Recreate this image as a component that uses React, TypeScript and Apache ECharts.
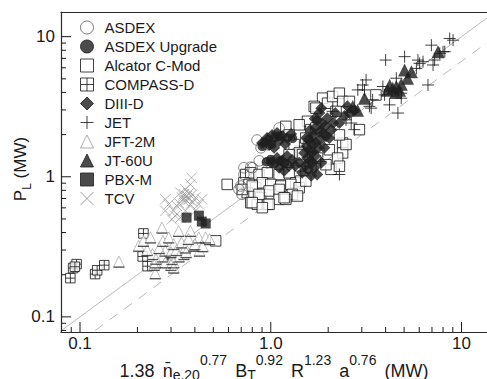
import React, { useEffect, useRef } from 'react';
import * as echarts from 'echarts';

const FONT = '"Liberation Sans", Arial, Helvetica, sans-serif';
const INK = '#1a1a1a';

// Legend order of the machines
const machines = ['ASDEX', 'ASDEX Upgrade', 'Alcator C-Mod', 'COMPASS-D', 'DIII-D', 'JET', 'JFT-2M', 'JT-60U', 'PBX-M', 'TCV'];

// Each point: [scaling expression (MW), P_L (MW)]
const asdex = [
  [1.106, 2.23], [0.96, 1.257], [0.785, 1.172], [0.723, 1.038], [0.695, 0.859], [0.706, 0.749],
  [0.96, 1.696], [0.8, 1.16], [0.681, 0.812], [0.889, 1.61], [0.847, 1.83], [0.723, 1.16], [0.87, 1.3],
];
const asdexUpgrade = [
  [0.903, 1.65], [0.93, 1.76], [0.97, 1.84], [1.01, 1.7], [1.05, 1.9], [1.1, 1.95], [0.95, 1.28],
  [1.0, 1.33], [1.05, 1.24], [1.12, 1.3], [1.18, 1.25], [1.3, 1.88], [0.3, 0.262],
];
const alcatorCMod = [
  [0.739, 1.038], [0.785, 1.068], [0.868, 1.038], [0.96, 1.068], [1.106, 1.038], [1.248, 1.068],
  [1.354, 0.906], [1.438, 0.932], [0.723, 0.906], [0.769, 0.882], [0.834, 0.835], [0.903, 0.906],
  [1.0, 0.882], [1.129, 0.859], [1.274, 0.882], [1.409, 0.835], [0.753, 0.77], [0.817, 0.749],
  [0.886, 0.709], [0.98, 0.792], [1.106, 0.812], [1.199, 0.709], [1.299, 0.749], [1.38, 0.729],
  [0.785, 0.654], [0.85, 0.636], [0.96, 0.636], [1.106, 0.69], [1.199, 0.69], [0.709, 0.812],
  [0.591, 0.882], [0.514, 0.349], [0.8, 0.859], [0.868, 0.749], [0.98, 0.636], [1.175, 0.709],
  [1.527, 0.932], [0.8, 0.654], [0.903, 0.602],
  [1.199, 2.29], [1.558, 2.49], [1.623, 2.17], [1.869, 3.64], [1.985, 3.35], [2.109, 3.74],
  [2.288, 3.95], [2.381, 3.45], [2.198, 2.93], [1.69, 3.18], [1.725, 2.23], [2.027, 1.56],
  [2.381, 1.74], [2.381, 1.48], [2.069, 1.13], [1.438, 1.52], [1.326, 1.7], [1.409, 1.48],
  [1.558, 1.79], [1.759, 1.36], [1.947, 1.22], [1.623, 1.16], [2.915, 2.17], [2.583, 3.45],
  [1.725, 3.09], [3.56, 3.84], [1.409, 2.35], [1.248, 1.99], [1.527, 1.89], [1.59, 1.65],
  [1.248, 1.44], [1.467, 1.44], [2.24, 1.36], [2.29, 1.19], [2.48, 1.7], [2.29, 1.99],
];
const compassD = [
  [0.089, 0.189], [0.092, 0.223], [0.096, 0.238], [0.094, 0.228], [0.12, 0.202], [0.123, 0.215],
  [0.134, 0.234], [0.215, 0.394], [0.213, 0.27], [0.226, 0.23],
];
const diiiD = [
  [0.9, 1.744], [0.956, 1.89], [1.016, 1.987], [1.079, 2.052], [1.147, 1.955], [1.218, 1.89],
  [1.279, 2.02], [0.98, 1.687], [1.106, 1.8], [1.189, 1.715], [1.041, 1.61],
  [1.004, 1.257], [1.079, 1.36], [1.147, 1.299], [1.218, 1.409], [1.294, 1.32], [1.342, 1.197],
  [1.106, 1.16], [1.248, 1.197], [1.175, 1.103],
  [1.461, 1.068], [1.516, 1.197], [1.553, 1.36], [1.59, 1.555], [1.629, 1.744], [1.668, 1.955],
  [1.709, 2.23], [1.751, 2.54], [1.795, 2.85], [1.839, 3.09], [1.571, 1.121], [1.649, 1.257],
  [1.709, 1.409], [1.773, 1.61], [1.817, 1.83], [1.884, 2.052], [1.931, 2.3], [1.979, 2.62],
  [1.751, 1.038], [1.497, 1.48], [1.535, 1.89], [1.61, 2.16], [1.908, 1.61], [2.027, 1.89],
  [2.077, 2.16], [2.128, 2.42], [1.69, 1.16], [1.839, 1.257], [1.629, 1.016], [1.409, 1.257],
  [1.55, 1.65], [1.66, 1.5], [1.72, 1.75], [1.62, 1.3], [1.8, 2.1], [1.7, 2.6], [1.85, 2.4],
  [1.95, 1.95], [1.58, 1.85],
  [2.431, 2.71], [2.583, 2.85], [2.744, 2.99], [2.288, 2.42], [2.18, 2.85], [2.521, 3.19],
];
const jet = [
  [8.67, 9.71], [9.03, 9.44], [6.95, 8.7], [8.0, 7.81], [7.09, 6.28], [7.23, 6.81], [6.28, 6.63],
  [5.91, 6.81], [5.03, 7.2], [4.0, 6.81], [5.8, 5.94], [6.67, 4.52], [4.55, 5.05], [4.83, 3.95],
  [4.83, 3.64], [4.19, 3.26], [4.64, 2.85], [3.87, 4.41], [3.95, 3.84], [3.16, 4.91], [3.03, 4.52],
  [3.1, 4.17], [2.86, 4.17], [3.29, 3.18], [3.36, 3.09], [2.29, 1.038], [2.64, 2.42], [2.74, 2.17],
  [2.11, 2.93], [2.48, 2.55], [1.438, 1.098], [1.497, 1.19], [1.83, 1.29], [7.69, 7.6], [6.03, 6.45],
  [8.17, 7.81], [3.42, 3.54],
];
const jft2m = [
  [0.16, 0.248], [0.203, 0.322], [0.215, 0.349], [0.234, 0.369], [0.24, 0.281], [0.248, 0.245],
  [0.269, 0.434], [0.272, 0.349], [0.28, 0.297], [0.292, 0.369], [0.303, 0.259], [0.31, 0.331],
  [0.329, 0.411], [0.34, 0.34], [0.35, 0.281], [0.357, 0.313], [0.379, 0.411], [0.395, 0.322],
  [0.42, 0.369], [0.423, 0.297], [0.455, 0.369], [0.478, 0.359], [0.225, 0.3], [0.26, 0.31],
  [0.27, 0.27], [0.3, 0.29], [0.32, 0.3], [0.33, 0.27], [0.36, 0.29], [0.37, 0.36], [0.4, 0.33],
  [0.44, 0.32], [0.25, 0.26], [0.28, 0.245], [0.31, 0.245], [0.245, 0.235], [0.3, 0.235],
  [0.248, 0.205], [0.31, 0.225],
];
const jt60u = [
  [5.03, 5.78], [5.46, 5.63], [5.21, 5.05], [4.55, 4.41], [4.83, 4.58], [4.36, 4.29], [4.09, 4.15],
  [4.73, 4.15], [7.53, 7.81], [3.1, 3.64], [2.69, 3.18], [2.85, 2.99], [4.2, 4.5], [4.5, 4.0],
];
const pbxM = [[0.362, 0.511], [0.42, 0.528], [0.435, 0.479], [0.456, 0.464]];
const tcv = [
  [0.28, 0.69], [0.292, 0.636], [0.31, 0.571], [0.322, 0.619], [0.336, 0.769], [0.343, 0.709],
  [0.35, 0.672], [0.357, 0.813], [0.364, 0.729], [0.372, 0.69], [0.379, 0.636], [0.387, 0.749],
  [0.403, 0.709], [0.42, 0.636], [0.436, 0.69], [0.316, 0.526], [0.336, 0.511], [0.357, 0.571],
  [0.303, 0.497], [0.28, 0.571], [0.403, 0.571], [0.379, 0.881], [0.384, 0.984], [0.35, 0.75],
  [0.37, 0.76], [0.36, 0.68], [0.33, 0.65], [0.39, 0.66],
];

// Reference lines: P_L equal to the scaling, and P_L at two thirds of it
const unityLine = [[0.05, 0.05], [20, 20]];
const twoThirdsLine = [[0.05, 0.0333], [20, 13.33]];

// Axis ranges and ticks
const xRange = [0.0795, 13.6];
const yRange = [0.078, 15];
const xMajorTicks = [0.1, 1, 10];
const xTickLabels = ['0.1', '1.0', '10'];
const yMajorTicks = [0.1, 1, 10];
const yTickLabels = ['0.1', '1', '10'];
const xMinorTicks = [0.09, 0.2, 0.3, 0.4, 0.5, 0.6, 0.7, 0.8, 0.9, 2, 3, 4, 5, 6, 7, 8, 9];
const yMinorTicks = [0.08, 0.09, 0.2, 0.3, 0.4, 0.5, 0.6, 0.7, 0.8, 0.9, 2, 3, 4, 5, 6, 7, 8, 9];

const labelFor = (ticks: number[], labels: string[]) => (v: number) => {
  const i = ticks.findIndex((t) => Math.abs(Math.log10(v) - Math.log10(t)) < 1e-6);
  return i >= 0 ? labels[i] : '';
};

const tickSeries = (axis: 'x' | 'y', values: number[], len: number) => ({
  type: 'custom',
  silent: true,
  z: 20,
  clip: false,
  data: values.map((v) => (axis === 'x' ? [v, 1] : [1, v])),
  renderItem: (params: any, api: any) => {
    const cs = params.coordSys;
    const style = { stroke: INK, lineWidth: 1 };
    if (axis === 'x') {
      const px = api.coord([api.value(0), 1])[0];
      const y0 = cs.y + cs.height;
      return { type: 'line', shape: { x1: px, y1: y0, x2: px, y2: y0 - len }, style };
    }
    const py = api.coord([1, api.value(1)])[1];
    return { type: 'line', shape: { x1: cs.x, y1: py, x2: cs.x + len, y2: py }, style };
  },
});

const scatter = (name: string | undefined, data: number[][], symbol: string, size: any, itemStyle: any, z: number, extra: any = {}) => ({
  type: 'scatter',
  name,
  data,
  symbol,
  symbolSize: size,
  symbolKeepAspect: true,
  itemStyle,
  z,
  silent: true,
  ...extra,
});

const refLine = (data: number[][], type: any) => ({
  type: 'line',
  data,
  symbol: 'none',
  silent: true,
  z: 1,
  lineStyle: { color: '#a8a8a8', width: 0.8, type },
});

export default function App() {
  const ref = useRef<HTMLDivElement>(null);

  useEffect(() => {
    if (!ref.current) return;
    const chart = echarts.init(ref.current, undefined, { renderer: 'svg' });

    const axisCommon = {
      type: 'log',
      logBase: 10,
      axisTick: { show: false },
      splitLine: { show: false },
      minorTick: { show: false },
      nameMoveOverlap: false,
      axisLine: { show: true, lineStyle: { color: '#2a2a2a', width: 1.2 } },
    };

    chart.setOption({
      animation: false,
      backgroundColor: '#ffffff',
      textStyle: { fontFamily: FONT },
      grid: { left: 61, top: 12, right: 0, bottom: 47, containLabel: false, outerBoundsMode: 'none' },
      legend: {
        orient: 'vertical',
        left: 80,
        top: 20,
        padding: 0,
        itemWidth: 13,
        itemHeight: 13,
        itemGap: 4,
        selectedMode: false,
        data: machines,
        itemStyle: { borderWidth: 1 },
        textStyle: { fontSize: 15, color: INK, fontFamily: FONT, padding: [0, 0, 0, 6] },
      },
      xAxis: [
        {
          ...axisCommon,
          min: xRange[0],
          max: xRange[1],
          axisLabel: {
            interval: 0,
            margin: 4,
            fontSize: 17,
            lineHeight: 15,
            color: INK,
            fontFamily: FONT,
            formatter: labelFor(xMajorTicks, xTickLabels),
          },
          name: '{m|1.38}{g| }{m|n\u0304}{s|e.20}{p|0.77}{g| }{m|B}{s|T}{p|0.92}{g| }{m|R}{p|1.23}{g| }{m|a}{p|0.76}{g| }{m|(MW)}',
          nameLocation: 'middle',
          nameGap: 19,
          nameTextStyle: {
            color: INK,
            fontFamily: FONT,
            rich: {
              m: { fontSize: 18, lineHeight: 40, verticalAlign: 'middle', color: INK, fontFamily: FONT },
              g: { fontSize: 18, lineHeight: 40, width: 8, verticalAlign: 'middle', color: INK, fontFamily: FONT },
              p: { fontSize: 14, padding: [0, 0, 23, 0], verticalAlign: 'middle', color: INK, fontFamily: FONT },
              s: { fontSize: 14, padding: [8, 0, 0, 0], verticalAlign: 'middle', color: INK, fontFamily: FONT },
            },
          },
        },
        {
          ...axisCommon,
          position: 'top',
          min: xRange[0],
          max: xRange[1],
          axisLabel: { show: false },
        },
      ],
      yAxis: {
        ...axisCommon,
        min: yRange[0],
        max: yRange[1],
        axisLabel: {
          interval: 0,
          margin: 6,
          fontSize: 17,
          color: INK,
          fontFamily: FONT,
          formatter: labelFor(yMajorTicks, yTickLabels),
        },
        name: '{m|P}{s|L}{m| (MW)}',
        nameLocation: 'middle',
        nameRotate: 90,
        nameGap: 28,
        nameTextStyle: {
          color: INK,
          fontFamily: FONT,
          padding: [0, 0, 0, 6],
          rich: {
            m: { fontSize: 17, lineHeight: 26, verticalAlign: 'middle', color: INK, fontFamily: FONT },
            s: { fontSize: 12, lineHeight: 12, verticalAlign: 'bottom', color: INK, fontFamily: FONT },
          },
        },
      },
      series: [
        refLine(unityLine, 'solid'),
        refLine(twoThirdsLine, [10, 8]),
        scatter('Alcator C-Mod', alcatorCMod, 'rect', 10.5, { color: '#ffffff', borderColor: '#111111', borderWidth: 1 }, 2),
        scatter('ASDEX', asdex, 'circle', 10.5, { color: 'rgba(255,255,255,0)', borderColor: '#555555', borderWidth: 0.9 }, 3),
        scatter('ASDEX Upgrade', asdexUpgrade, 'circle', 9.5, { color: '#1e1e1e', borderColor: '#1e1e1e', borderWidth: 0 }, 3),
        scatter('COMPASS-D', compassD, 'path://M0,0H10V10H0Z M5,0V10 M0,5H10', 9.5, { color: '#ffffff', borderColor: '#111111', borderWidth: 1 }, 3),
        scatter('JFT-2M', jft2m, 'triangle', 11, { color: '#ffffff', borderColor: '#9a9a9a', borderWidth: 0.8 }, 3),
        scatter(undefined, jft2m, 'rect', [11, 1.3], { color: '#333333' }, 3, { symbolOffset: [0, 5.5], symbolKeepAspect: false }),
        scatter('TCV', tcv, 'path://M0,0L10,10M10,0L0,10', 10.5, { color: 'rgba(0,0,0,0)', borderColor: '#8c8c8c', borderWidth: 0.8 }, 3),
        scatter('JET', jet, 'path://M5,0V10M0,5H10', 12, { color: 'rgba(0,0,0,0)', borderColor: '#111111', borderWidth: 1 }, 4),
        scatter('DIII-D', diiiD, 'diamond', 12, { color: '#1e1e1e', borderColor: '#1e1e1e', borderWidth: 0 }, 5),
        scatter('JT-60U', jt60u, 'triangle', 13, { color: '#1e1e1e', borderColor: '#1e1e1e', borderWidth: 0 }, 6),
        scatter('PBX-M', pbxM, 'rect', 10, { color: '#1e1e1e', borderColor: '#1e1e1e', borderWidth: 0 }, 6),
        tickSeries('x', xMajorTicks, 10),
        tickSeries('x', xMinorTicks, 5),
        tickSeries('y', yMajorTicks, 10),
        tickSeries('y', yMinorTicks, 5),
      ],
    });

    return () => chart.dispose();
  }, []);

  return (
    <div
      ref={ref}
      style={{ position: 'fixed', left: 0, top: 0, width: 487, height: 379, background: '#ffffff' }}
    />
  );
}
